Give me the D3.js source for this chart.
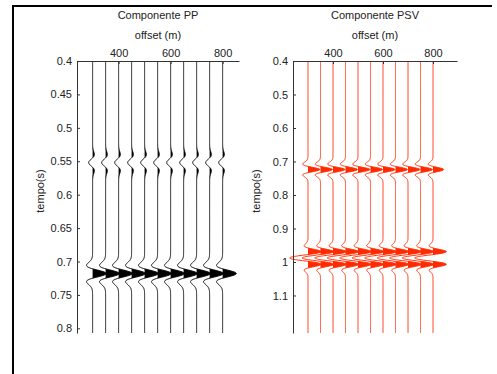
<!DOCTYPE html>
<html>
<head>
<meta charset="utf-8">
<script src="https://cdn.jsdelivr.net/npm/d3@7/dist/d3.min.js"></script>
<style>
  html, body { margin: 0; padding: 0; background: #fff; }
  svg { display: block; }
  text { font-family: "Liberation Sans", Arial, Helvetica, sans-serif; }
</style>
</head>
<body>
<svg id="chart" width="497" height="374"></svg>
<script>
// Offsets of the recorded traces (m)
const offsets = [300, 350, 400, 450, 500, 550, 600, 650, 700, 750, 800];

// Offset axis tick labels
const offsetTicks = [400, 600, 800];

// Time axis tick labels (s)
const ppTimeTicks = [0.4, 0.45, 0.5, 0.55, 0.6, 0.65, 0.7, 0.75, 0.8];
const psvTimeTicks = [0.4, 0.5, 0.6, 0.7, 0.8, 0.9, 1.0, 1.1];

// Axis extents
const ppOffsetDomain = [240, 863];
const psvOffsetDomain = [240, 896];
const ppTimeDomain = [0.4, 0.807];
const psvTimeDomain = [0.4, 1.212];

// PP component: reflection arrival times (s) and amplitude per trace
const ppEventTimes = [0.552, 0.718];
const ppAmpEvent1 = [-0.30, -0.30, -0.30, -0.30, -0.30, -0.30, -0.30, -0.30, -0.30, -0.30, -0.30];
const ppAmpEvent2 = [1.05, 1.05, 1.05, 1.05, 1.05, 1.05, 1.05, 1.05, 1.05, 1.05, 1.05];
const ppFreq = 32;

// PSV component: converted-wave arrivals (s) and amplitude per trace
const psvEventTimes = [0.724, 0.968, 0.988, 1.008];
const psvAmpEvent1 = [0.95, 0.95, 0.95, 0.95, 0.95, 0.95, 0.95, 0.95, 0.95, 0.95, 0.85];
const psvAmpEvent2 = [0.70, 0.70, 0.70, 0.70, 0.70, 0.70, 0.70, 0.70, 0.70, 0.70, 0.70];
const psvAmpEvent3 = [-0.95, -0.95, -0.95, -0.95, -0.95, -0.95, -0.95, -0.95, -0.95, -0.95, -0.95];
const psvAmpEvent4 = [0.70, 0.70, 0.70, 0.70, 0.70, 0.70, 0.70, 0.70, 0.70, 0.70, 0.70];
const psvFreq = 24;

const svg = d3.select("#chart");

// Page frame
svg.append("line").attr("x1", 13).attr("x2", 13).attr("y1", 5).attr("y2", 374)
  .attr("stroke", "#000").attr("stroke-width", 2);
svg.append("line").attr("x1", 12).attr("x2", 492).attr("y1", 6).attr("y2", 6)
  .attr("stroke", "#000").attr("stroke-width", 2);

function ricker(tau, f) {
  const a = Math.PI * f * tau;
  const a2 = a * a;
  return (1 - 2 * a2) * Math.exp(-a2);
}

function drawPanel(cfg) {
  const x = d3.scaleLinear().domain(cfg.offsetDomain).range(cfg.xRange);
  const y = d3.scaleLinear().domain(cfg.timeDomain).range([61, 333]);
  const gain = x(offsets[1]) - x(offsets[0]);
  const g = svg.append("g");

  const dt = 0.0005;
  const times = d3.range(cfg.timeDomain[0], cfg.timeDomain[1] + dt / 2, dt);

  offsets.forEach((off, i) => {
    const samples = times.map(t => {
      let v = 0;
      cfg.events.forEach(ev => { v += ev.amps[i] * ricker(t - ev.t, cfg.freq); });
      return { t, v };
    });
    const base = x(off);
    const area = d3.area()
      .y(d => y(d.t))
      .x0(base)
      .x1(d => base + Math.max(0, d.v) * gain);
    const line = d3.line()
      .y(d => y(d.t))
      .x(d => base + d.v * gain);
    g.append("path").attr("d", area(samples)).attr("fill", cfg.color).attr("stroke", "none");
    g.append("path").attr("d", line(samples)).attr("fill", "none")
      .attr("stroke", cfg.color).attr("stroke-width", 1);
  });

  // Axes
  const axLeft = d3.axisLeft(y).tickValues(cfg.timeTicks).tickFormat(d3.format("~g"))
    .tickSizeInner(-3).tickSizeOuter(0).tickPadding(5);
  const axTop = d3.axisTop(x).tickValues(offsetTicks).tickFormat(d3.format("d"))
    .tickSizeInner(-3).tickSizeOuter(0).tickPadding(4);

  const gl = g.append("g").attr("transform", `translate(${cfg.xRange[0]},0)`).call(axLeft);
  const gt = g.append("g").attr("transform", "translate(0,61)").call(axTop);
  [gl, gt].forEach(a => {
    a.selectAll("path, line").attr("stroke", "#333");
    a.selectAll("text").attr("fill", "#222").style("font-size", "11px")
      .style("font-family", '"Liberation Sans", Arial, sans-serif');
  });

  const cx = (cfg.xRange[0] + cfg.xRange[1]) / 2;
  g.append("text").attr("x", cx).attr("y", 19).attr("text-anchor", "middle")
    .attr("font-size", 11).attr("fill", "#222").text(cfg.title);
  g.append("text").attr("x", cx).attr("y", 39).attr("text-anchor", "middle")
    .attr("font-size", 11).attr("fill", "#222").text("offset (m)");
  g.append("text")
    .attr("transform", `translate(${cfg.xRange[0] - 33},191) rotate(-90)`)
    .attr("text-anchor", "middle").attr("font-size", 11).attr("fill", "#222")
    .text("tempo(s)");
}

drawPanel({
  title: "Componente PP",
  offsetDomain: ppOffsetDomain,
  timeDomain: ppTimeDomain,
  xRange: [77, 239],
  timeTicks: ppTimeTicks,
  freq: ppFreq,
  color: "#000",
  events: [
    { t: ppEventTimes[0], amps: ppAmpEvent1 },
    { t: ppEventTimes[1], amps: ppAmpEvent2 }
  ]
});

drawPanel({
  title: "Componente PSV",
  offsetDomain: psvOffsetDomain,
  timeDomain: psvTimeDomain,
  xRange: [293, 457],
  timeTicks: psvTimeTicks,
  freq: psvFreq,
  color: "#ff2a00",
  events: [
    { t: psvEventTimes[0], amps: psvAmpEvent1 },
    { t: psvEventTimes[1], amps: psvAmpEvent2 },
    { t: psvEventTimes[2], amps: psvAmpEvent3 },
    { t: psvEventTimes[3], amps: psvAmpEvent4 }
  ]
});
</script>
</body>
</html>
